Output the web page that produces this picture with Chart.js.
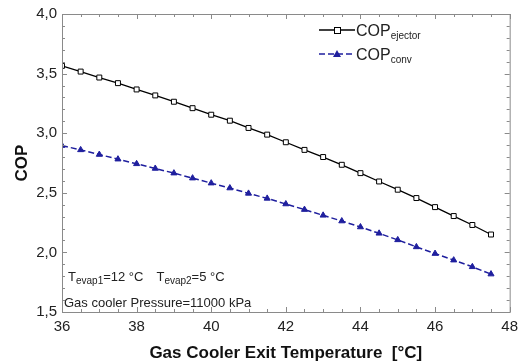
<!DOCTYPE html>
<html>
<head>
<meta charset="utf-8">
<script src="https://cdn.jsdelivr.net/npm/chart.js@4/dist/chart.umd.min.js"></script>
<style>
  html, body { margin: 0; padding: 0; background: #fff; }
  #wrap { width: 524px; height: 364px; }
</style>
</head>
<body>
<div id="wrap"><canvas id="c"></canvas></div>
<script>
const temps = [36, 36.5, 37, 37.5, 38, 38.5, 39, 39.5, 40, 40.5, 41, 41.5, 42, 42.5, 43, 43.5, 44, 44.5, 45, 45.5, 46, 46.5, 47, 47.5]
const copEjector = [3.565, 3.517, 3.467, 3.42, 3.367, 3.317, 3.264, 3.21, 3.155, 3.105, 3.044, 2.988, 2.924, 2.86, 2.80, 2.735, 2.665, 2.595, 2.526, 2.456, 2.38, 2.305, 2.23, 2.15]
const copConv = [2.896, 2.86, 2.821, 2.782, 2.743, 2.704, 2.665, 2.623, 2.581, 2.54, 2.495, 2.453, 2.406, 2.359, 2.311, 2.263, 2.213, 2.16, 2.105, 2.046, 1.99, 1.935, 1.879, 1.818]
const xTicks = [36, 38, 40, 42, 44, 46, 48]
const yTicks = [1.5, 2.0, 2.5, 3.0, 3.5, 4.0]

const blue = "#1f1f9e"
const textColor = "#222"
const frameColor = "#8a8a8a"
const font = "Liberation Sans, Arial, sans-serif"

// frame, inward ticks, legend and notes
const decor = {
  id: "decor",
  afterDraw(chart) {
    const ctx = chart.ctx
    const xs = chart.scales.x
    const ys = chart.scales.y
    const a = chart.chartArea
    ctx.save()
    ctx.strokeStyle = frameColor
    ctx.lineWidth = 1
    ctx.strokeRect(a.left + 0.5, a.top + 0.5, a.right - a.left, a.bottom - a.top)

    ctx.beginPath()
    for (let v = 36; v <= 48.001; v += 0.5) {
      const px = Math.round(xs.getPixelForValue(v)) + 0.5
      const len = Math.abs(v % 2) < 0.01 ? 5 : 3
      ctx.moveTo(px, a.bottom); ctx.lineTo(px, a.bottom - len)
      ctx.moveTo(px, a.top); ctx.lineTo(px, a.top + len)
    }
    for (let i = 15; i <= 40; i++) {
      const v = i / 10
      const py = Math.round(ys.getPixelForValue(v)) + 0.5
      const len = i % 5 === 0 ? 5 : 3
      ctx.moveTo(a.left, py); ctx.lineTo(a.left + len, py)
      ctx.moveTo(a.right, py); ctx.lineTo(a.right - len, py)
    }
    ctx.stroke()

    // legend
    const lx = 319
    ctx.lineWidth = 1.3
    ctx.strokeStyle = "#000"
    ctx.beginPath(); ctx.moveTo(lx, 30); ctx.lineTo(lx + 36, 30); ctx.stroke()
    ctx.fillStyle = "#fff"
    ctx.lineWidth = 1
    ctx.fillRect(lx + 15, 27, 6, 6)
    ctx.strokeRect(lx + 15.5, 27.5, 6, 6)

    ctx.strokeStyle = blue
    ctx.lineWidth = 1.5
    ctx.setLineDash([6, 3])
    ctx.beginPath(); ctx.moveTo(lx, 54); ctx.lineTo(lx + 36, 54); ctx.stroke()
    ctx.setLineDash([])
    ctx.fillStyle = blue
    ctx.beginPath()
    ctx.moveTo(lx + 18, 50); ctx.lineTo(lx + 22, 57); ctx.lineTo(lx + 14, 57); ctx.closePath()
    ctx.fill()

    ctx.fillStyle = textColor
    ctx.textBaseline = "alphabetic"
    ctx.textAlign = "left"
    const sub = (x, y, main, s, mainSize, subSize) => {
      ctx.font = mainSize + "px " + font
      ctx.fillText(main, x, y)
      const w = ctx.measureText(main).width
      ctx.font = subSize + "px " + font
      ctx.fillText(s, x + w, y + 3)
      return x + w + ctx.measureText(s).width
    }
    sub(lx + 37, 36, "COP", "ejector", 16, 10)
    sub(lx + 37, 60, "COP", "conv", 16, 10)

    // notes
    let x = sub(68, 281, "T", "evap1", 13, 10)
    ctx.font = "13px " + font
    ctx.fillText("=12 °C", x, 281)
    x += ctx.measureText("=12 °C").width + 13
    x = sub(x, 281, "T", "evap2", 13, 10)
    ctx.font = "13px " + font
    ctx.fillText("=5 °C", x, 281)
    ctx.fillText("Gas cooler Pressure=11000 kPa", 64, 307)
    ctx.restore()
  }
}

new Chart(document.getElementById("c"), {
  type: "line",
  data: {
    datasets: [
      {
        label: "COP ejector",
        data: temps.map((t, i) => ({ x: t, y: copEjector[i] })),
        borderColor: "#000",
        borderWidth: 1.3,
        pointStyle: "rect",
        pointRadius: 3.5,
        pointBackgroundColor: "#fff",
        pointBorderColor: "#000",
        pointBorderWidth: 1,
        tension: 0
      },
      {
        label: "COP conv",
        data: temps.map((t, i) => ({ x: t, y: copConv[i] })),
        borderColor: blue,
        borderWidth: 1.5,
        borderDash: [6, 3],
        pointStyle: "triangle",
        pointRadius: 3.5,
        pointBackgroundColor: blue,
        pointBorderColor: blue,
        pointBorderWidth: 1,
        tension: 0
      }
    ]
  },
  options: {
    responsive: true,
    maintainAspectRatio: false,
    animation: false,
    layout: { padding: { top: 13, right: 13, left: 12, bottom: 0 } },
    plugins: {
      legend: { display: false },
      tooltip: { enabled: false }
    },
    scales: {
      x: {
        type: "linear",
        min: 36,
        max: 48,
        afterBuildTicks: s => { s.ticks = xTicks.map(v => ({ value: v })) },
        grid: { display: false, drawTicks: false },
        border: { display: false },
        ticks: {
          color: textColor,
          padding: 6,
          font: { family: font, size: 15 },
          maxRotation: 0,
          callback: v => String(v)
        },
        title: {
          display: true,
          text: "Gas Cooler Exit Temperature  [°C]",
          color: "#111",
          font: { family: font, size: 17, weight: "bold" },
          padding: { top: 4, bottom: 0 }
        },
        afterFit: s => { s.height = 52 }
      },
      y: {
        min: 1.5,
        max: 4.0,
        afterBuildTicks: s => { s.ticks = yTicks.map(v => ({ value: v })) },
        grid: { display: false, drawTicks: false },
        border: { display: false },
        ticks: {
          color: textColor,
          padding: 5,
          font: { family: font, size: 15 },
          callback: v => v.toFixed(1).replace(".", ",")
        },
        title: {
          display: true,
          text: "COP",
          color: "#111",
          font: { family: font, size: 17, weight: "bold" },
          padding: { top: 0, bottom: 4 }
        },
        afterFit: s => { s.width = 50 }
      }
    }
  },
  plugins: [decor]
})
</script>
</body>
</html>
